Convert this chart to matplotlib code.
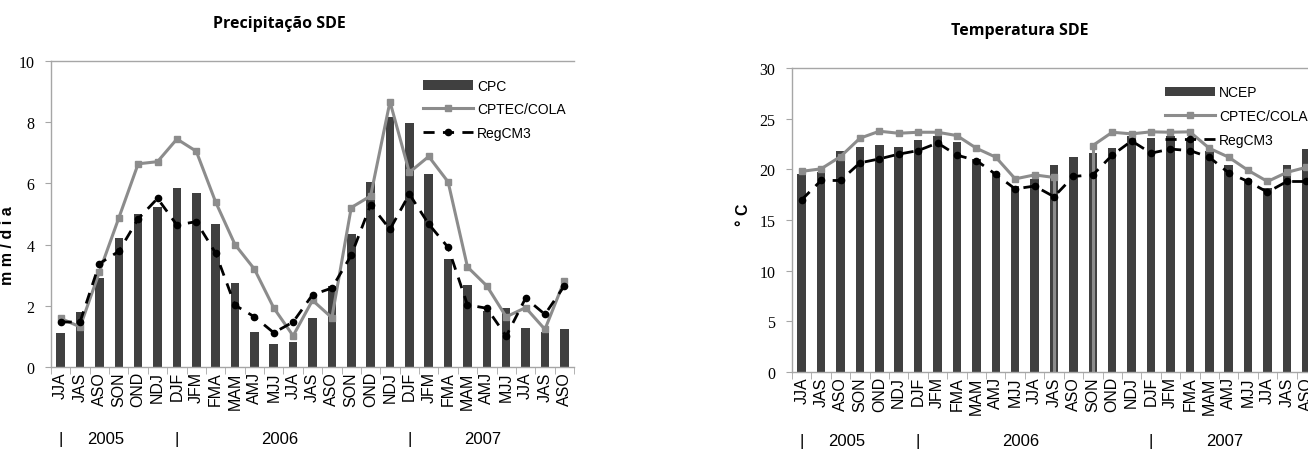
import numpy as np
import matplotlib
matplotlib.use('Agg')
import matplotlib.pyplot as plt
from matplotlib.transforms import blended_transform_factory

plt.rcParams['font.family'] = ['Liberation Sans', 'DejaVu Sans']

# trimestres moveis (jun/2005 - out/2007)
seasons = ['JJA', 'JAS', 'ASO', 'SON', 'OND', 'NDJ',
           'DJF', 'JFM', 'FMA', 'MAM', 'AMJ', 'MJJ', 'JJA', 'JAS', 'ASO', 'SON', 'OND', 'NDJ',
           'DJF', 'JFM', 'FMA', 'MAM', 'AMJ', 'MJJ', 'JJA', 'JAS', 'ASO']
years = ['2005', '2006', '2007']
year_start = [0, 6, 18]

# precipitacao (mm/dia)
prec_cpc = [1.12, 1.81, 2.91, 4.21, 5.00, 5.22, 5.86, 5.67, 4.68, 2.74, 1.16, 0.75, 0.82, 1.59,
            2.64, 4.34, 6.03, 8.16, 7.97, 6.31, 3.54, 2.68, 1.82, 1.93, 1.27, 1.15, 1.24]
prec_cptec = [1.59, 1.31, 3.11, 4.87, 6.64, 6.71, 7.45, 7.05, 5.39, 4.00, 3.20, 1.93, 1.02, 2.18,
              1.61, 5.21, 5.59, 8.67, 6.36, 6.88, 6.05, 3.27, 2.65, 1.64, 1.94, 1.23, 2.82]
prec_regcm = [1.47, 1.47, 3.38, 3.78, 4.84, 5.51, 4.64, 4.75, 3.72, 2.02, 1.64, 1.12, 1.47, 2.36,
              2.58, 3.65, 5.30, 4.50, 5.65, 4.67, 3.91, 2.03, 1.92, 1.01, 2.25, 1.72, 2.65]

# temperatura (C)
temp_ncep = [19.55, 19.7, 21.85, 22.18, 22.4, 22.2, 22.9, 23.3, 22.7, 21.0, 19.6, 18.4, 19.06,
             20.47, 21.2, 21.6, 22.1, 23.3, 23.1, 23.3, 23.0, 21.85, 20.4, 19.06, 18.2, 20.4, 22.0]
temp_cptec = [19.8, 20.05, 21.26, 23.07, 23.76, 23.56, 23.66, 23.66, 23.33, 22.08, 21.2, 19.06,
              19.45, 19.2, np.nan, 22.35, 23.66, 23.5, 23.7, 23.66, 23.7, 22.08, 21.2, 19.9, 18.8,
              19.7, 20.2]
temp_regcm = [17.0, 18.9, 18.9, 20.64, 21.03, 21.5, 21.85, 22.6, 21.4, 20.87, 19.5, 18.07, 18.35,
              17.3, 19.3, 19.45, 21.4, 22.8, 21.6, 22.0, 21.85, 21.2, 19.65, 18.8, 17.75, 18.8, 18.8]

bar_color = '#404040'
grey = '#8c8c8c'
spine_color = '#a6a6a6'


def draw_panel(ax, bars, model, regcm, bar_label, ymax, ystep, ylabel, ylab_xy, year_y):
    x = np.arange(len(seasons))
    hb = ax.bar(x, bars, width=0.44, color=bar_color, label=bar_label, zorder=1)
    model = np.array(model, dtype=float)
    # celulas vazias: linha desce ate o eixo
    for i in np.where(np.isnan(model))[0]:
        for j in (i - 1, i + 1):
            ax.vlines(j, 0, model[j], color=grey, lw=2.2, zorder=2)
    hm, = ax.plot(x, model, color=grey, lw=2.2, marker='s', ms=5, label='CPTEC/COLA', zorder=3)
    hr, = ax.plot(x, regcm, color='black', lw=2.0, ls=(0, (4, 3)), marker='o', ms=4.5,
                  label='RegCM3', zorder=4)

    ax.set_xlim(-0.5, len(seasons) - 0.5)
    ax.set_ylim(0, ymax)
    ax.set_yticks(np.arange(0, ymax + 0.1, ystep))
    ax.set_xticks(x)
    ax.set_xticklabels(seasons, rotation=90, fontsize=11.5)
    ax.set_xticks(np.arange(-0.5, len(seasons)), minor=True)
    ax.tick_params(axis='x', which='major', length=0, pad=3)
    ax.tick_params(axis='x', which='minor', length=5, color=spine_color, direction='out')
    ax.tick_params(axis='y', length=4, color=spine_color, pad=8)
    for lab in ax.get_yticklabels():
        lab.set_fontfamily('Liberation Serif')
        lab.set_fontsize(11.5)
    ax.spines['right'].set_visible(False)
    for s in ('left', 'bottom', 'top'):
        ax.spines[s].set_color(spine_color)
        ax.spines[s].set_linewidth(1.0)

    leg = ax.legend([hb, hm, hr], [bar_label, 'CPTEC/COLA', 'RegCM3'],
                    loc='upper right', bbox_to_anchor=(1.0, 0.97), frameon=False, fontsize=10,
                    handlelength=3.6, handletextpad=0.3, labelspacing=0.7, borderaxespad=0.2)
    for t in leg.get_texts():
        t.set_fontfamily(['Liberation Sans Narrow', 'Liberation Sans'])

    ax.set_ylabel(ylabel, fontsize=11.5, fontweight='bold')
    ax.yaxis.set_label_coords(*ylab_xy)

    trans = blended_transform_factory(ax.transData, ax.transAxes)
    ends = year_start[1:] + [len(seasons)]
    for yr, s, e in zip(years, year_start, ends):
        ax.text(s, year_y, '|', transform=trans, ha='center', va='center', fontsize=12)
        ax.text((s + e - 1) / 2 - 0.2, year_y, yr, transform=trans, ha='center', va='center',
                fontsize=12)


fig = plt.figure(figsize=(13.08, 4.52), dpi=100)

ax1 = fig.add_axes([51 / 1308, 84 / 452, 523 / 1308, 306 / 452])
draw_panel(ax1, prec_cpc, prec_cptec, prec_regcm, 'CPC', 10, 2, 'm m / d i a', (-0.068, 0.40),
           -0.235)

ax2 = fig.add_axes([792 / 1308, 79 / 452, 524 / 1308, 304 / 452])
draw_panel(ax2, temp_ncep, temp_cptec, temp_regcm, 'NCEP', 30, 5, '° C', (-0.078, 0.52),
           -0.225)

fig.text(279 / 1308, 1 - 24 / 452, 'Precipitação SDE', ha='center', va='center',
         fontsize=11.5, fontweight='bold', family=['Open Sans', 'DejaVu Sans'])
fig.text(1020 / 1308, 1 - 31 / 452, 'Temperatura SDE', ha='center', va='center',
         fontsize=11.5, fontweight='bold', family=['Open Sans', 'DejaVu Sans'])

fig.savefig('out.png', dpi=100)
